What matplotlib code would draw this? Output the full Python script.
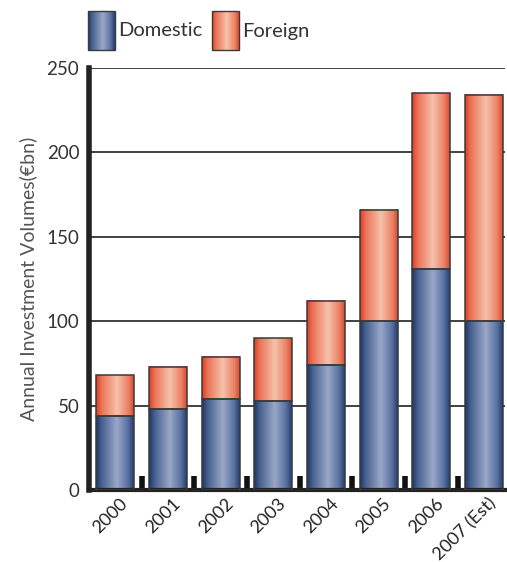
import numpy as np
import matplotlib
matplotlib.use("Agg")
import matplotlib.pyplot as plt
from matplotlib.colors import LinearSegmentedColormap

plt.rcParams['font.family'] = ['Lato', 'DejaVu Sans']

years = ["2000", "2001", "2002", "2003", "2004", "2005", "2006", "2007 (Est)"]
domestic = [44, 48, 54, 53, 74, 100, 131, 100]
foreign = [24, 25, 25, 37, 38, 66, 104, 134]
series_names = ["Domestic", "Foreign"]
yticks = [0, 50, 100, 150, 200, 250]

blue_cmap = LinearSegmentedColormap.from_list(
    "blue_bar", [(0.0, "#1b3664"), (0.15, "#47608f"), (0.55, "#9aa7c8"),
                 (0.85, "#5870a0"), (1.0, "#203d6e")])
red_cmap = LinearSegmentedColormap.from_list(
    "red_bar", [(0.0, "#e03a24"), (0.15, "#eb7356"), (0.55, "#f6c2aa"),
                (0.85, "#eb8266"), (1.0, "#dc4a2f")])
grad = np.linspace(0, 1, 256).reshape(1, -1)


def shade(ax, patch, cmap):
    x0, y0 = patch.get_x(), patch.get_y()
    w, h = patch.get_width(), patch.get_height()
    ax.imshow(grad, cmap=cmap, extent=(x0, x0 + w, y0, y0 + h),
              aspect="auto", zorder=2, interpolation="bilinear")


W, H, DPI = 507, 562, 100
fig = plt.figure(figsize=(W / DPI, H / DPI), dpi=DPI)
ax = fig.add_axes([89 / W, (H - 490) / H, (505 - 89) / W, (490 - 68) / H])

x = np.arange(len(years))
width = 0.72
b1 = ax.bar(x, domestic, width, facecolor="none", edgecolor="#3a3a3a",
            linewidth=1.1, zorder=3)
b2 = ax.bar(x, foreign, width, bottom=domestic, facecolor="none",
            edgecolor="#3a3a3a", linewidth=1.1, zorder=3)
for p in b1:
    shade(ax, p, blue_cmap)
for p in b2:
    shade(ax, p, red_cmap)

ax.set_xlim(-0.5, 7.4)
ax.set_ylim(0, 250)

for v in yticks[1:]:
    ax.axhline(v, color="#333333", linewidth=1.3, zorder=1)

for s in ["top", "right"]:
    ax.spines[s].set_visible(False)
ax.spines["left"].set_linewidth(4)
ax.spines["left"].set_color("#222222")
ax.spines["bottom"].set_linewidth(3)
ax.spines["bottom"].set_color("#222222")

ax.set_yticks(yticks)
ax.set_yticklabels([str(v) for v in yticks], fontsize=13.5, color="#333333")
ax.tick_params(axis="y", length=0, pad=7)

ax.set_xticks(x[:-1] + 0.5)
ax.set_xticklabels([])
ax.tick_params(axis="x", direction="in", length=10, width=4, color="#111111")
for xi, lab in zip(x, years):
    ax.text(xi + 0.08, -3, lab, rotation=45, ha="right", va="top",
            rotation_mode="anchor", fontsize=13, color="#222222",
            transform=ax.transData, clip_on=False)

ax.set_ylabel("Annual Investment Volumes(€bn)", fontsize=14,
              color="#555555", labelpad=7)

# legend swatches with the same gradients
lax = fig.add_axes([0, 0, 1, 1], facecolor="none")
lax.set_xlim(0, W)
lax.set_ylim(H, 0)
lax.axis("off")
for (sx, tx), cmap, name in zip([(88, 118), (212, 242)],
                                [blue_cmap, red_cmap], series_names):
    lax.imshow(grad, cmap=cmap, extent=(sx, sx + 27, 50, 11),
               aspect="auto", interpolation="bilinear")
    lax.add_patch(plt.Rectangle((sx, 11), 27, 39, fill=False,
                                edgecolor="#3a3a3a", linewidth=1.0))
    lax.text(tx, 31, name, fontsize=14.5, color="#333333", va="center",
             ha="left")
lax.set_xlim(0, W)
lax.set_ylim(H, 0)

fig.savefig("out.png", dpi=DPI)
